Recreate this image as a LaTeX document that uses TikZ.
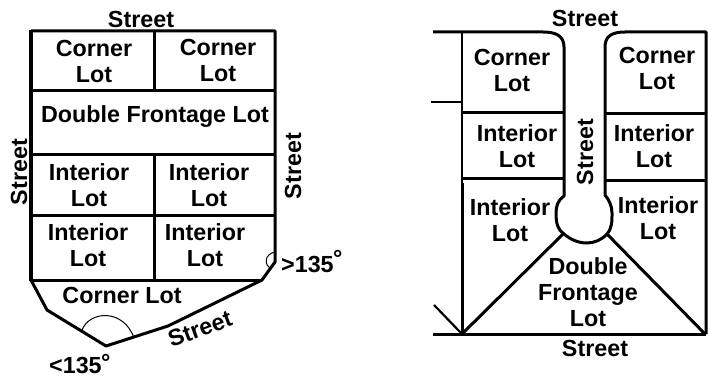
\documentclass[tikz,border=0pt]{standalone}
\usepackage{fontspec}
\setmainfont{Liberation Sans}
\tikzset{
    lotline/.style={line width=3pt, line join=round},
    lottext/.style={font=\fontsize{23.3}{26}\selectfont\bfseries, align=center, inner sep=0pt},
}
\begin{document}
\begin{tikzpicture}[x=1pt, y=-1pt]
    \useasboundingbox (0,0) rectangle (708,377);

    % Left block: outline
    \draw[lotline] (31,31) -- (275,31) -- (275,262) -- (262,280) -- (168,326) -- (106,346) -- (47,310) -- (31,280);
    \draw[line width=4.5pt] (31,30) -- (31,281);

    % Left block: lot lines
    \draw[lotline] (31,91) -- (275,91);
    \draw[lotline] (31,154) -- (275,154);
    \draw[lotline] (31,215) -- (275,215);
    \draw[lotline] (31,280) -- (262,280);
    \draw[lotline] (154,31) -- (154,91);
    \draw[lotline] (154,154) -- (154,280);

    % Angle marks
    \draw[line width=1pt] (82,330) .. controls (90,310) and (124,309) .. (134,338);
    \draw[line width=1pt] (275,252) .. controls (264,254) and (264,266) .. (271,268);

    % Left block: labels
    \node[lottext] (streettopa) at (141,19) {Street};
    \node[lottext] (cornera) at (94,61) {Corner\\Lot};
    \node[lottext] (cornerb) at (218,60) {Corner\\Lot};
    \node[lottext] (doublea) at (155,117) {Double Frontage Lot};
    \node[lottext] (interiora) at (89,185) {Interior\\Lot};
    \node[lottext] (interiorb) at (209,185) {Interior\\Lot};
    \node[lottext] (interiorc) at (88,245) {Interior\\Lot};
    \node[lottext] (interiord) at (205,245) {Interior\\Lot};
    \node[lottext] (cornerc) at (122,295) {Corner Lot};
    \node[lottext, rotate=90] (streetlefta) at (19,172) {Street};
    \node[lottext, rotate=90] (streetrighta) at (293,166) {Street};
    \node[lottext, rotate=20] (streetdiag) at (200,329) {Street};
    \node[lottext, anchor=west] (anglebig) at (281,264) {>135};
    \node[lottext, anchor=west] (anglebigdeg) at (333,258) {°};
    \node[lottext, anchor=west] (anglesmall) at (49,365) {<135};
    \node[lottext, anchor=west] (anglesmalldeg) at (101,362) {°};

    % Right block: outline with the cul-de-sac
    \draw[lotline] (433,32) -- (543,32) .. controls (556,32) and (564,36) .. (564,47)
        -- (564,196) .. controls (558,200) and (556,206) .. (556,213)
        .. controls (556,224) and (558,230) .. (564,234)
        .. controls (578,246) and (596,246) .. (607,234)
        .. controls (612,228) and (612,222) .. (612,213)
        .. controls (612,206) and (609,200) .. (605,195)
        -- (605,47) .. controls (605,36) and (612,32) .. (625,32) -- (706,32) -- (706,334);
    \draw[lotline] (433,334) -- (706,334);

    % Right block: left edge and stubs
    \draw[line width=1.8pt] (462,32) -- (462,183);
    \draw[lotline] (462,183) -- (462,336);
    \draw[line width=2.2pt] (431,102) -- (462,102);
    \draw[line width=2.2pt] (434,305) -- (462,334);

    % Right block: lot lines
    \draw[lotline] (462,112) -- (564,112);
    \draw[lotline] (462,178) -- (564,178);
    \draw[lotline] (605,113) -- (706,113);
    \draw[lotline] (605,180) -- (706,180);
    \draw[lotline] (462,334) -- (563,234);
    \draw[lotline] (607,234) -- (705,334);

    % Right block: labels
    \node[lottext] (streettopb) at (585,18) {Street};
    \node[lottext] (cornerd) at (512,70) {Corner\\Lot};
    \node[lottext] (cornere) at (657,68) {Corner\\Lot};
    \node[lottext] (interiore) at (517,146) {Interior\\Lot};
    \node[lottext] (interiorf) at (654,146) {Interior\\Lot};
    \node[lottext, rotate=90] (streetmid) at (585,152) {Street};
    \node[lottext] (interiorg) at (510,220) {Interior\\Lot};
    \node[lottext] (interiorh) at (658,218) {Interior\\Lot};
    \node[lottext] (doubleb) at (588,292) {Double\\Frontage\\Lot};
    \node[lottext] (streetbottom) at (595,348) {Street};
\end{tikzpicture}
\end{document}
